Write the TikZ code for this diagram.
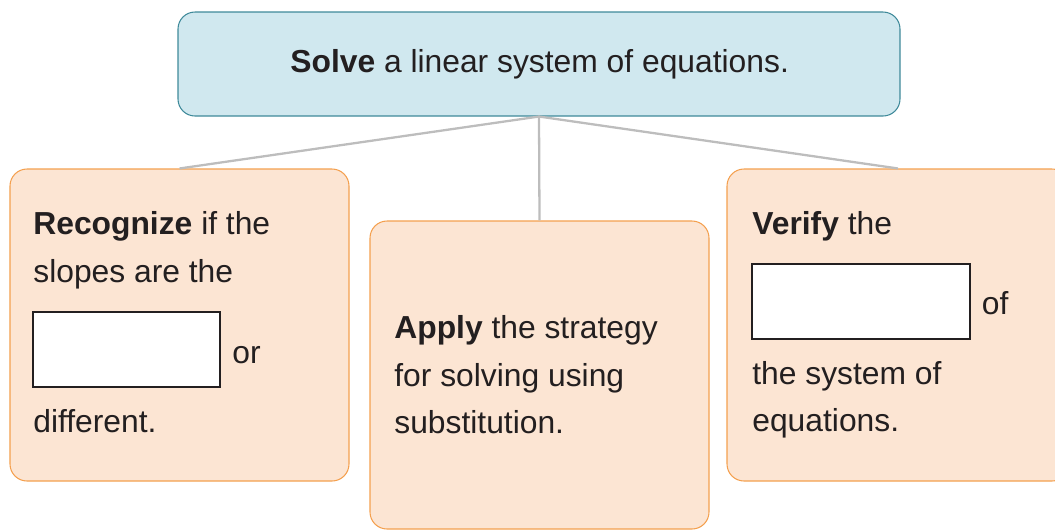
\documentclass[tikz,border=0pt]{standalone}
\usepackage{fontspec}
\setmainfont{Liberation Sans}
\usepackage{tikz}
\usetikzlibrary{positioning}

\definecolor{topfill}{HTML}{D0E8EF}
\definecolor{topline}{HTML}{3F8A9A}
\definecolor{stepfill}{HTML}{FCE5D3}
\definecolor{stepline}{HTML}{F4A04F}
\definecolor{linkgray}{HTML}{BDBDBD}
\definecolor{ink}{HTML}{231F20}

\begin{document}
\begin{tikzpicture}[
    goalbox/.style={draw=topline,fill=topfill,rounded corners=0.34cm,line width=0.6pt,minimum width=14.44cm,minimum height=2.08cm},
    stepbox/.style={draw=stepline,fill=stepfill,rounded corners=0.34cm,line width=0.6pt,minimum width=6.78cm},
    blank/.style={draw=ink,fill=white,line width=1.3pt,minimum height=1.5cm},
    txt/.style={anchor=base west,inner sep=0pt,text=ink,font=\fontsize{18.1}{27}\selectfont},
    link/.style={draw=linkgray,line width=1.3pt}
]
\useasboundingbox (0,0) rectangle (21.1,-10.58);

\node[goalbox] (goal) at (10.78,-1.28) {};
\node[stepbox,minimum height=6.24cm] (recog) at (3.59,-6.5) {};
\node[stepbox,minimum height=6.16cm] (apply) at (10.79,-7.5) {};
\node[stepbox,minimum height=6.24cm,minimum width=6.84cm] (verify) at (17.96,-6.5) {};

\draw[link] (goal.south) -- (recog.north);
\draw[link] (goal.south) -- (apply.north);
\draw[link] (goal.south) -- (verify.north);

\node[txt] (goaltxt) at (5.8,-1.45) {\textbf{Solve} a linear system of equations.};

\node[txt] (r1) at (0.66,-4.69) {\textbf{Recognize} if the};
\node[txt] (r2) at (0.66,-5.64) {slopes are the};
\node[blank,minimum width=3.74cm] (rblank) at (2.53,-6.99) {};
\node[txt] (r3) at (4.64,-7.27) {or};
\node[txt] (r4) at (0.66,-8.64) {different.};

\node[txt] (a1) at (7.88,-6.76) {\textbf{Apply} the strategy};
\node[txt] (a2) at (7.88,-7.72) {for solving using};
\node[txt] (a3) at (7.88,-8.66) {substitution.};

\node[txt] (v1) at (15.04,-4.69) {\textbf{Verify} the};
\node[blank,minimum width=4.36cm] (vblank) at (17.22,-6.03) {};
\node[txt] (v2) at (19.63,-6.29) {of};
\node[txt] (v3) at (15.04,-7.69) {the system of};
\node[txt] (v4) at (15.04,-8.63) {equations.};
\end{tikzpicture}
\end{document}
